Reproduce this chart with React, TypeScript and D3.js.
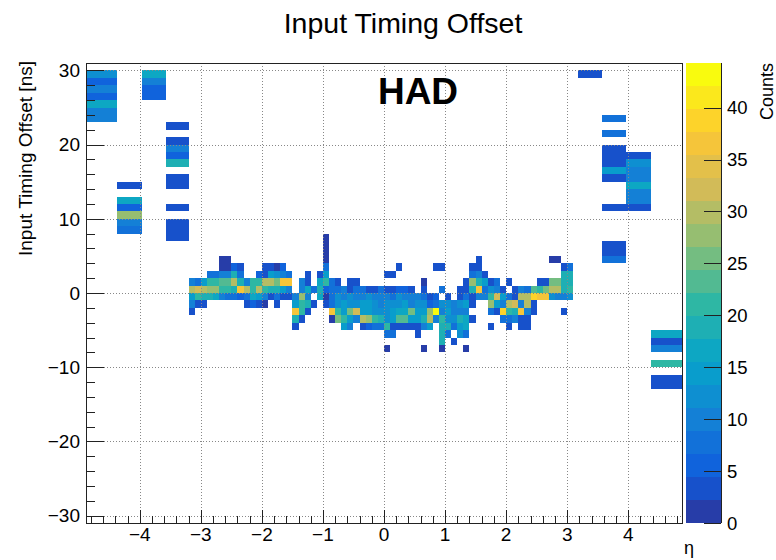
import React from 'react';
import * as d3 from 'd3';

// ---- canvas / frame geometry ----
const W = 776;
const H = 560;
const frame = { left: 86, right: 682, top: 63, bottom: 523 };
const bar = { left: 686, right: 721 };

// ---- axis ranges and ticks ----
const etaRange: [number, number] = [-4.88, 4.88];
const timeRange: [number, number] = [-31, 31];
const zMax = 44.3;
const nContours = 20;

const etaTicks = [-4, -3, -2, -1, 0, 1, 2, 3, 4];
const timeTicks = [-30, -20, -10, 0, 10, 20, 30];
const countTicks = [0, 5, 10, 15, 20, 25, 30, 35, 40];

// ---- ROOT kBird palette ----
const birdStops = [0.0, 0.125, 0.25, 0.375, 0.5, 0.625, 0.75, 0.875, 1.0];
const birdRed = [0.2082, 0.0592, 0.078, 0.0232, 0.1802, 0.5301, 0.8186, 0.9956, 0.9764];
const birdGreen = [0.1664, 0.3599, 0.5041, 0.6419, 0.7178, 0.7492, 0.7328, 0.7862, 0.9832];
const birdBlue = [0.5293, 0.8684, 0.8385, 0.7914, 0.6425, 0.4662, 0.3499, 0.1968, 0.0539];

// ---- barrel / endcap region: uniform 0.1 eta bins, 1 ns time bins ----
const barrelEtaStart = -3.2;
const barrelEtaStep = 0.1;
const barrelTimeBins = [7, 6, 5, 4, 3, 2, 1, 0, -1, -2, -3, -4, -5, -6, -7, -8];
// one row per time bin (low edge above), 63 eta columns from -3.2 to 3.1
const barrelCounts: number[][] = [
  [0,0,0,0,0,0,0,0,0,0, 0,0,0,0,0,0,0,0,0,0, 0,0,2,0,0,0,0,0,0,0, 0,0,0,0,0,0,0,0,0,0, 0,0,0,0,0,0,0,0,0,0, 0,0,0,0,0,0,0,0,0,0, 0,0,0],
  [0,0,0,0,0,0,0,0,0,0, 0,0,0,0,0,0,0,0,0,0, 0,0,2,0,0,0,0,0,0,0, 0,0,0,0,0,0,0,0,0,0, 0,0,0,0,0,0,0,0,0,0, 0,0,0,0,0,0,0,0,0,0, 0,0,0],
  [0,0,0,0,0,0,0,0,0,0, 0,0,0,0,0,0,0,0,0,0, 0,0,2,0,0,0,0,0,0,0, 0,0,0,0,0,0,0,0,0,0, 0,0,0,0,0,0,0,0,0,0, 0,0,0,0,0,0,0,0,0,0, 0,0,0],
  [0,0,0,0,0,2,2,0,0,0, 0,0,0,0,0,0,0,0,0,0, 0,0,2,0,0,0,0,0,0,0, 0,0,0,0,0,0,0,0,0,0, 0,0,0,0,0,0,0,3,0,0, 0,0,0,0,0,0,0,0,0,2, 2,0,0],
  [0,0,0,0,0,2,2,6,3,0, 0,0,3,3,2,6,0,0,0,0, 0,0,8,0,0,0,0,0,0,0, 0,0,0,0,3,0,0,0,0,0, 3,3,0,0,0,0,3,3,0,0, 0,0,0,0,0,0,0,0,0,0, 0,3,8],
  [0,0,0,7,7,11,11,18,8,0, 0,6,4,15,12,9,8,0,0,3, 0,3,15,0,0,0,0,0,0,0, 0,0,3,3,0,0,0,0,0,0, 0,0,0,0,0,0,8,9,3,0, 0,0,0,0,0,0,0,0,0,0, 0,18,18],
  [9,7,14,20,20,24,24,29,18,10, 21,20,30,29,25,37,37,0,10,3, 0,17,21,8,3,0,3,3,0,0, 0,0,0,0,0,0,0,0,2,0, 0,0,0,0,0,3,27,18,14,3, 8,0,3,0,0,0,0,3,3,25, 26,19,19],
  [29,33,31,28,28,22,20,19,37,30, 20,30,22,19,19,15,10,0,9,16, 8,18,6,8,7,9,3,8,8,3, 4,7,3,3,6,6,3,0,3,0, 0,8,0,0,3,3,19,37,8,13, 10,3,0,3,10,8,24,22,26,30, 29,18,20],
  [15,21,19,18,17,9,8,8,5,8, 17,14,10,3,7,3,3,9,28,9, 0,16,2,8,13,10,12,10,11,13, 10,9,10,8,12,10,9,11,8,3, 6,0,3,0,4,8,4,10,9,22, 32,15,8,3,31,30,38,37,36,12, 10,10,12],
  [9,3,3,0,0,0,0,0,0,3, 6,3,2,0,3,0,0,14,22,18, 3,0,3,7,13,14,13,12,14,15, 13,11,12,13,12,14,11,13,12,6, 7,12,13,10,12,14,3,0,0,28, 15,9,31,32,9,30,3,0,0,0, 0,0,0],
  [3,0,0,0,0,0,0,0,0,0, 0,0,0,0,0,0,0,36,22,3, 0,0,0,36,22,14,25,33,15,15, 13,13,12,14,17,16,25,15,14,28, 44,10,15,9,11,10,0,0,0,8, 3,38,22,18,36,9,3,0,0,0, 0,3,0],
  [0,0,0,0,0,0,0,0,0,0, 0,0,0,0,0,0,0,18,3,0, 0,0,0,2,25,20,14,9,29,27, 22,19,12,14,23,24,15,14,19,30, 10,22,12,13,18,17,3,0,0,0, 0,7,8,9,3,3,0,0,0,0, 0,0,0],
  [0,0,0,0,0,0,0,0,0,0, 0,0,0,0,0,0,0,3,0,0, 0,0,0,0,0,14,9,0,3,5, 8,7,22,3,3,3,3,3,9,14, 0,19,18,8,14,16,0,0,0,3, 0,0,3,0,3,3,0,0,0,0, 0,0,0],
  [0,0,0,0,0,0,0,0,0,0, 0,0,0,0,0,0,0,0,0,0, 0,0,0,0,0,0,0,0,0,0, 0,0,8,8,0,0,0,3,0,0, 0,18,8,0,13,8,0,0,0,0, 0,0,0,0,0,0,0,0,0,0, 0,0,0],
  [0,0,0,0,0,0,0,0,0,0, 0,0,0,0,0,0,0,0,0,0, 0,0,0,0,0,0,0,0,0,0, 0,0,0,0,0,0,0,0,0,0, 0,18,0,3,0,0,0,0,0,0, 0,0,0,0,0,0,0,0,0,0, 0,0,0],
  [0,0,0,0,0,0,0,0,0,0, 0,0,0,0,0,0,0,0,0,0, 0,0,0,0,0,0,0,0,0,0, 0,0,2,0,0,0,0,0,2,0, 0,2,0,0,0,2,0,0,0,0, 0,0,0,0,0,0,0,0,0,0, 0,0,0],
];

// ---- forward (HF) region: wide eta bins ----
const forwardEtaBins: [number, number][] = [
  [-4.88, -4.37], [-4.37, -3.97], [-3.97, -3.57], [-3.57, -3.2],
  [3.17, 3.57], [3.57, 3.97], [3.97, 4.37], [4.37, 4.88],
];
// [eta bin index, time bin low edge, counts]
const forwardCells: [number, number, number][] = [
  [0, 29, 12], [0, 28, 5], [0, 27, 9], [0, 26, 6], [0, 25, 16], [0, 24, 10], [0, 23, 10],
  [1, 14, 4], [1, 12, 16], [1, 11, 5], [1, 10, 27], [1, 9, 9], [1, 8, 7],
  [2, 29, 17], [2, 28, 10], [2, 27, 5], [2, 26, 5],
  [3, 22, 4], [3, 20, 4], [3, 19, 11], [3, 18, 5], [3, 17, 18], [3, 15, 4], [3, 14, 4],
  [3, 11, 4], [3, 9, 4], [3, 8, 4], [3, 7, 4],
  [4, 29, 3],
  [5, 23, 8], [5, 21, 8], [5, 19, 3], [5, 18, 3], [5, 17, 3], [5, 16, 14], [5, 15, 4],
  [5, 11, 3], [5, 6, 3], [5, 5, 3], [5, 4, 8],
  [6, 18, 4], [6, 17, 13], [6, 16, 9], [6, 15, 9], [6, 14, 16], [6, 13, 9], [6, 12, 9], [6, 11, 4],
  [7, -6, 16], [7, -7, 4], [7, -8, 10], [7, -10, 21], [7, -12, 4], [7, -13, 4],
];

const FONT = '"Liberation Sans", Arial, Helvetica, sans-serif';

const x = d3.scaleLinear().domain(etaRange).range([frame.left, frame.right]);
const y = d3.scaleLinear().domain(timeRange).range([frame.bottom, frame.top]);
const z = d3.scaleLinear().domain([0, zMax]).range([frame.bottom, frame.top]);

const birdScale = d3
  .scaleLinear<string>()
  .domain(birdStops)
  .range(birdStops.map((_, i) => d3.rgb(birdRed[i] * 255, birdGreen[i] * 255, birdBlue[i] * 255).toString()))
  .interpolate(d3.interpolateRgb);

// ROOT picks the palette entry for contour level i as int((i + 0.99) * ncolors / ncont)
const bandColor = (band: number) => {
  const idx = Math.floor(((band + 0.99) * 255) / nContours);
  return birdScale(Math.min(idx, 254) / 254);
};
const countColor = (c: number) => {
  const band = Math.min(nContours - 1, Math.floor((c / zMax) * nContours));
  return bandColor(band);
};

interface Cell { x0: number; x1: number; t: number; c: number; }

const cells: Cell[] = [];
barrelCounts.forEach((row, r) => {
  row.forEach((c, i) => {
    if (c > 0) {
      const e0 = barrelEtaStart + i * barrelEtaStep;
      cells.push({ x0: e0, x1: e0 + barrelEtaStep, t: barrelTimeBins[r], c });
    }
  });
});
forwardCells.forEach(([b, t, c]) => {
  cells.push({ x0: forwardEtaBins[b][0], x1: forwardEtaBins[b][1], t, c });
});

const etaMinor = d3.range(-24, 25).filter((k) => k % 5 !== 0).map((k) => k * 0.2);
const timeMinor = d3.range(-15, 16).filter((k) => k % 5 !== 0).map((k) => k * 2);
const bands = d3.range(nContours);

const fmt = (v: number) => (v < 0 ? '\u2212' + Math.abs(v) : String(v));

export default function App() {
  const majX = 13;
  const minX = 7;
  const majY = 18;
  const minY = 9;
  const axisColor = '#222';
  return (
    <svg
      width={W}
      height={H}
      viewBox={`0 0 ${W} ${H}`}
      style={{ position: 'absolute', left: 0, top: 0, background: '#fff' }}
      fontFamily={FONT}
    >
      <rect x={0} y={0} width={W} height={H} fill="#fff" />

      {/* histogram cells */}
      <g shapeRendering="crispEdges">
        {cells.map((d, i) => (
          <rect
            key={i}
            x={x(d.x0)}
            y={y(d.t + 1)}
            width={x(d.x1) - x(d.x0)}
            height={y(d.t) - y(d.t + 1)}
            fill={countColor(d.c)}
          />
        ))}
      </g>

      {/* grid */}
      <g stroke="#888" strokeWidth={1} strokeDasharray="1,2">
        {etaTicks.map((t) => (
          <line key={'gx' + t} x1={Math.round(x(t)) + 0.5} x2={Math.round(x(t)) + 0.5} y1={frame.top} y2={frame.bottom} />
        ))}
        {timeTicks.map((t) => (
          <line key={'gy' + t} x1={frame.left} x2={frame.right} y1={Math.round(y(t)) + 0.5} y2={Math.round(y(t)) + 0.5} />
        ))}
      </g>

      {/* frame */}
      <rect
        x={frame.left + 0.5}
        y={frame.top + 0.5}
        width={frame.right - frame.left}
        height={frame.bottom - frame.top}
        fill="none"
        stroke={axisColor}
        strokeWidth={1}
      />

      {/* axis ticks */}
      <g stroke={axisColor} strokeWidth={1}>
        {etaTicks.map((t) => (
          <line key={'tx' + t} x1={Math.round(x(t)) + 0.5} x2={Math.round(x(t)) + 0.5} y1={frame.bottom} y2={frame.bottom - majX} />
        ))}
        {etaMinor.map((t) => (
          <line key={'mx' + t} x1={Math.round(x(t)) + 0.5} x2={Math.round(x(t)) + 0.5} y1={frame.bottom} y2={frame.bottom - minX} />
        ))}
        {timeTicks.map((t) => (
          <line key={'ty' + t} x1={frame.left} x2={frame.left + majY} y1={Math.round(y(t)) + 0.5} y2={Math.round(y(t)) + 0.5} />
        ))}
        {timeMinor.map((t) => (
          <line key={'my' + t} x1={frame.left} x2={frame.left + minY} y1={Math.round(y(t)) + 0.5} y2={Math.round(y(t)) + 0.5} />
        ))}
      </g>

      {/* tick labels */}
      <g fontSize={19} fill="#000">
        {etaTicks.map((t) => (
          <text key={'lx' + t} x={x(t)} y={541} textAnchor="middle">
            {fmt(t)}
          </text>
        ))}
        {timeTicks.map((t) => (
          <text key={'ly' + t} x={80} y={y(t)} dy="0.36em" textAnchor="end">
            {fmt(t)}
          </text>
        ))}
      </g>

      {/* axis titles */}
      <text x={694} y={554} fontSize={18} textAnchor="end">η</text>
      <text
        transform={`translate(32, ${frame.top - 2}) rotate(-90)`}
        fontSize={19}
        textAnchor="end"
      >
        Input Timing Offset [ns]
      </text>

      {/* title */}
      <text x={403} y={33} fontSize={28.5} textAnchor="middle">Input Timing Offset</text>

      {/* region label */}
      <text x={418} y={104} fontSize={37} fontWeight="bold" textAnchor="middle">HAD</text>

      {/* colour palette */}
      <g shapeRendering="crispEdges">
        {bands.map((b) => (
          <rect
            key={'pb' + b}
            x={bar.left}
            y={z(((b + 1) * zMax) / nContours)}
            width={bar.right - bar.left}
            height={z((b * zMax) / nContours) - z(((b + 1) * zMax) / nContours)}
            fill={bandColor(b)}
          />
        ))}
      </g>
      <g stroke={axisColor} strokeWidth={1}>
        <line x1={bar.right + 0.5} x2={bar.right + 0.5} y1={frame.top} y2={frame.bottom} />
        {countTicks.map((c) => (
          <line key={'pt' + c} x1={bar.right} x2={bar.right - 17} y1={Math.round(z(c)) + 0.5} y2={Math.round(z(c)) + 0.5} />
        ))}
      </g>
      <g fontSize={18.5} fill="#000">
        {countTicks.map((c) => (
          <text key={'pl' + c} x={727} y={z(c)} dy="0.36em" textAnchor="start">
            {c}
          </text>
        ))}
      </g>
      <text transform={`translate(773, ${frame.top}) rotate(-90)`} fontSize={18} textAnchor="end">
        Counts
      </text>
    </svg>
  );
}
